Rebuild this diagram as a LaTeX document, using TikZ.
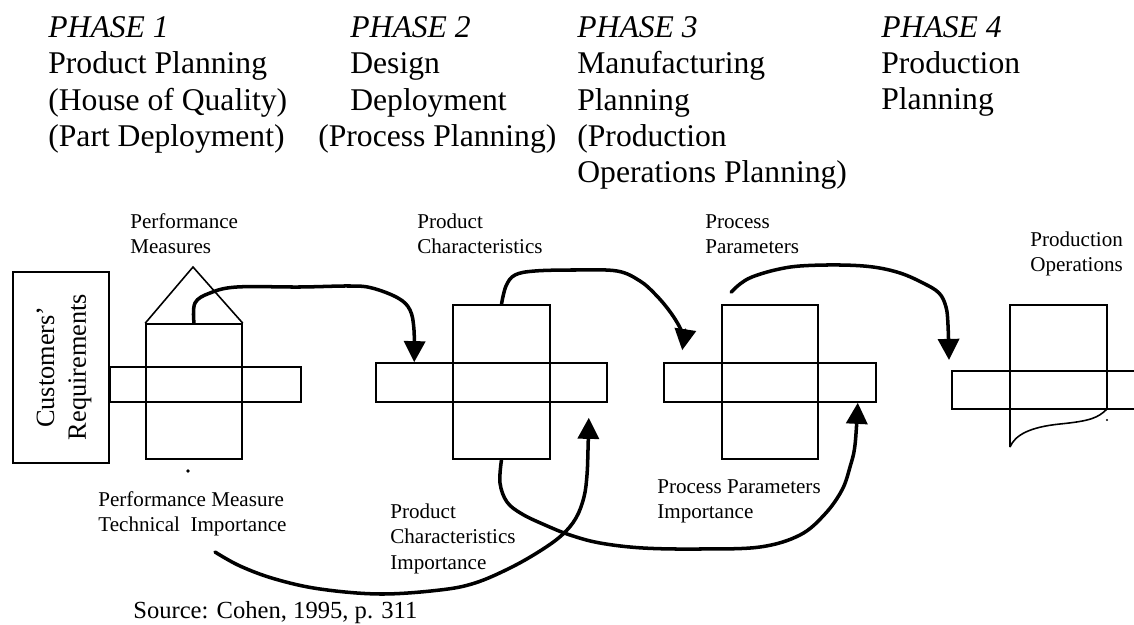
\documentclass[tikz,border=0pt]{standalone}
\usepackage{fontspec}
\setmainfont{Liberation Serif}
\usetikzlibrary{arrows.meta,fit,calc}

\begin{document}
\begin{tikzpicture}[x=0.02cm,y=-0.02cm,
  frame/.style={draw,line width=0.9pt,inner sep=0pt},
  edge/.style={line width=0.9pt},
  flow/.style={line width=2pt,line cap=round,line join=round,
               -{Triangle[length=12pt,width=12pt]}},
  hdr/.style={anchor=base west,align=left,inner sep=0pt,
              font=\fontsize{18}{20.7}\selectfont},
  lbl/.style={anchor=base west,align=left,inner sep=0pt,
              font=\fontsize{12}{14.5}\selectfont}
]
  \useasboundingbox (0,0) rectangle (1134,625);
  % phase headers (placed by the baseline of their last line)
  \node[hdr] (ph1) at (48,146.5)  {\textit{PHASE 1}\\Product Planning\\(House of Quality)\\(Part Deployment)};
  \node[hdr] (ph2) at (318,146.5) {\hspace*{0.64cm}\textit{PHASE 2}\\\hspace*{0.64cm}Design\\\hspace*{0.64cm}Deployment\\(Process Planning)};
  \node[hdr] (ph3) at (577,183)   {\textit{PHASE 3}\\Manufacturing\\Planning\\(Production\\Operations Planning)};
  \node[hdr] (ph4) at (881,110)   {\textit{PHASE 4}\\Production\\Planning};
  % phase 1: customers + house of quality
  \node[frame,fit={(13,272) (109,463)}] (cust) {};
  \node[rotate=90,align=center,font=\fontsize{15}{18}\selectfont] (custtxt) at (64,367) {Customers’\\Requirements};
  \node[frame,fit={(146,324) (242,459)}] (hq1) {};
  \node[frame,fit={(110,367) (301,402)}] (bar1) {};
  \coordinate (roof) at (193,267);
  \draw[edge] (hq1.north west) -- (roof) -- (hq1.north east);
  \fill (188,471) circle[radius=1.1pt];
  % phase 2
  \node[frame,fit={(453,305) (550,459)}] (hq2) {};
  \node[frame,fit={(376,363) (607,402)}] (bar2) {};
  % phase 3
  \node[frame,fit={(722,305) (818,459)}] (hq3) {};
  \node[frame,fit={(664,363) (876,402)}] (bar3) {};
  % phase 4 (open to the right, wavy bottom)
  \coordinate (hq4a) at (1010,447);
  \coordinate (hq4b) at (1010,305);
  \coordinate (hq4c) at (1107,305);
  \coordinate (hq4d) at (1107,409);
  \coordinate (bar4) at (952,371);
  \draw[edge] (hq4a) -- (hq4b) -- (hq4c) -- (hq4d)
    .. controls (1098,418) and (1090,421) .. (1060,424)
    .. controls (1030,427) and (1015,435) .. (hq4a);
  \draw[edge] (1134,371) -- (bar4) -- (952,409) -- (1134,409);
  \fill (1107,420) circle[radius=0.6pt];
  % labels (last-line baselines)
  \node[lbl] (pm)   at (130,253.5)  {Performance\\Measures};
  \node[lbl] (pc)   at (417,253.5)  {Product\\Characteristics};
  \node[lbl] (pp)   at (705,253.5)  {Process\\Parameters};
  \node[lbl] (po)   at (1030,271.5) {Production\\Operations};
  \node[lbl] (pmti) at (98,531.5)   {Performance Measure\\Technical\ \ Importance};
  \node[lbl] (pci)  at (390,569)    {Product\\Characteristics\\Importance};
  \node[lbl] (ppi)  at (657,518.5)  {Process Parameters\\Importance};
  \node[anchor=base west,inner sep=0pt,font=\fontsize{14}{17}\selectfont] (src) at (133,618) {Source: Cohen, 1995, p. 311};
  % arrow ends
  \coordinate (in2)  at ($(bar2.north west)+(39,0)$);
  \coordinate (in3)  at ($(bar3.north west)+(19,-12)$);
  \coordinate (in4)  at ($(bar4)+(-3,-11)$);
  \coordinate (up2)  at ($(bar2.south east)+(-19,15)$);
  \coordinate (up3)  at ($(bar3.south east)+(-19,0)$);
  \coordinate (out3) at ($(hq3.north west)+(10,-12)$);
  \coordinate (imp1) at (215,552);
  % top flows
  \draw[flow] plot[smooth,tension=0.6] coordinates {(hq1.north) (195,303) (210,293) (237,287) (300,287)
    (350,286) (372,288) (398,298) (410,310) (414,330) (in2)};
  \draw[flow] plot[smooth,tension=0.6] coordinates {(hq2.north) (506,286) (515,275) (535,271) (575,270)
    (617,271) (640,281) (655,294) (668,309) (678,324) (683,336) (in3)};
  \draw[flow] plot[smooth,tension=0.6] coordinates {(out3) (740,284) (752,277) (775,270) (800,266)
    (840,265) (873,267) (900,273) (923,283) (939,293) (946,307) (948,325) (in4)};
  % bottom flows
  \draw[flow] plot[smooth,tension=0.6] coordinates {(imp1) (240,566) (275,579) (320,589) (380,594)
    (440,590) (475,583) (510,568) (540,551) (562,535) (576,518) (584,497) (587,475) (588,450) (up2)};
  \draw[flow] plot[smooth,tension=0.6] coordinates {(hq2.south) (500,483) (507,502) (522,514) (545,525)
    (570,535) (600,543) (643,548) (700,549) (760,547) (800,535) (825,514) (842,490) (850,467) (855,445) (up3)};
\end{tikzpicture}
\end{document}
